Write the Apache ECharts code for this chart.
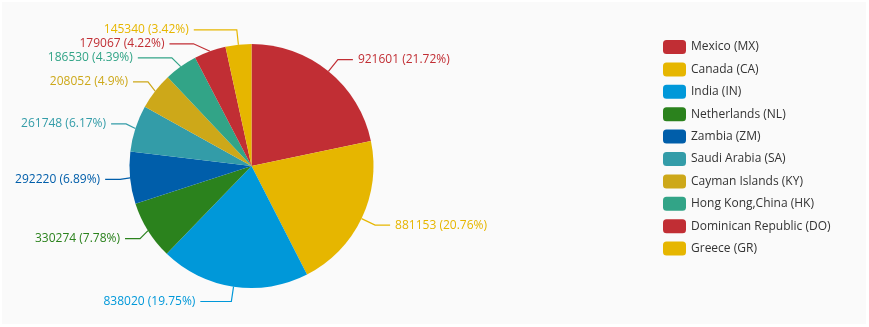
<!DOCTYPE html>
<html>
<head>
<meta charset="utf-8">
<script src="https://cdn.jsdelivr.net/npm/echarts@6/dist/echarts.min.js"></script>
<style>
html,body{margin:0;padding:0;background:#fff;}
#c{position:absolute;left:2px;top:2px;width:864px;height:322px;background:#fafafa;}
</style>
</head>
<body>
<div id="c"></div>
<script>
const categories = ['Mexico (MX)','Canada (CA)','India (IN)','Netherlands (NL)','Zambia (ZM)','Saudi Arabia (SA)','Cayman Islands (KY)','Hong Kong,China (HK)','Dominican Republic (DO)','Greece (GR)'];
const values = [921601, 881153, 838020, 330274, 292220, 261748, 208052, 186530, 179067, 145340];
const percents = ['21.72','20.76','19.75','7.78','6.89','6.17','4.9','4.39','4.22','3.42'];
const palette = ['#c12e34','#e6b600','#0098d9','#2b821d','#005eaa','#339ca8','#cda819','#32a487'];

// label-line second segment lengths (styling only)
const lineLen2 = {'India (IN)': 31, 'Hong Kong,China (HK)': 34, 'Dominican Republic (DO)': 24, 'Greece (GR)': 43};

const chart = echarts.init(document.getElementById('c'));
const data = categories.map((n,i)=>{
  const d = {name:n,value:values[i],pct:percents[i]};
  if (lineLen2[n]) d.labelLine = {length2: lineLen2[n]};
  return d;
});
chart.setOption({
  color: palette,
  backgroundColor: '#fafafa',
  textStyle: {fontFamily: '"Open Sans", "Noto Sans", sans-serif'},
  legend: {
    orient: 'vertical',
    left: 656,
    top: 33,
    itemWidth: 23,
    itemHeight: 14,
    itemGap: 8.4,
    itemStyle: {borderRadius: 4},
    textStyle: {fontSize: 12, color: '#333', fontFamily: '"Open Sans", "Noto Sans", sans-serif'},
    data: categories
  },
  series: [{
    type: 'pie',
    center: [249.5, 164],
    radius: [0, 122],
    startAngle: 90,
    clockwise: true,
    avoidLabelOverlap: true,
    label: {
      show: true,
      fontSize: 12,
      color: 'inherit',
      fontFamily: '"Open Sans", "Noto Sans", sans-serif',
      formatter: p => p.value + ' (' + p.data.pct + '%)'
    },
    labelLine: {length: 15, length2: 15, lineStyle: {width: 1.2}},
    data: data
  }]
});
</script>
</body>
</html>
